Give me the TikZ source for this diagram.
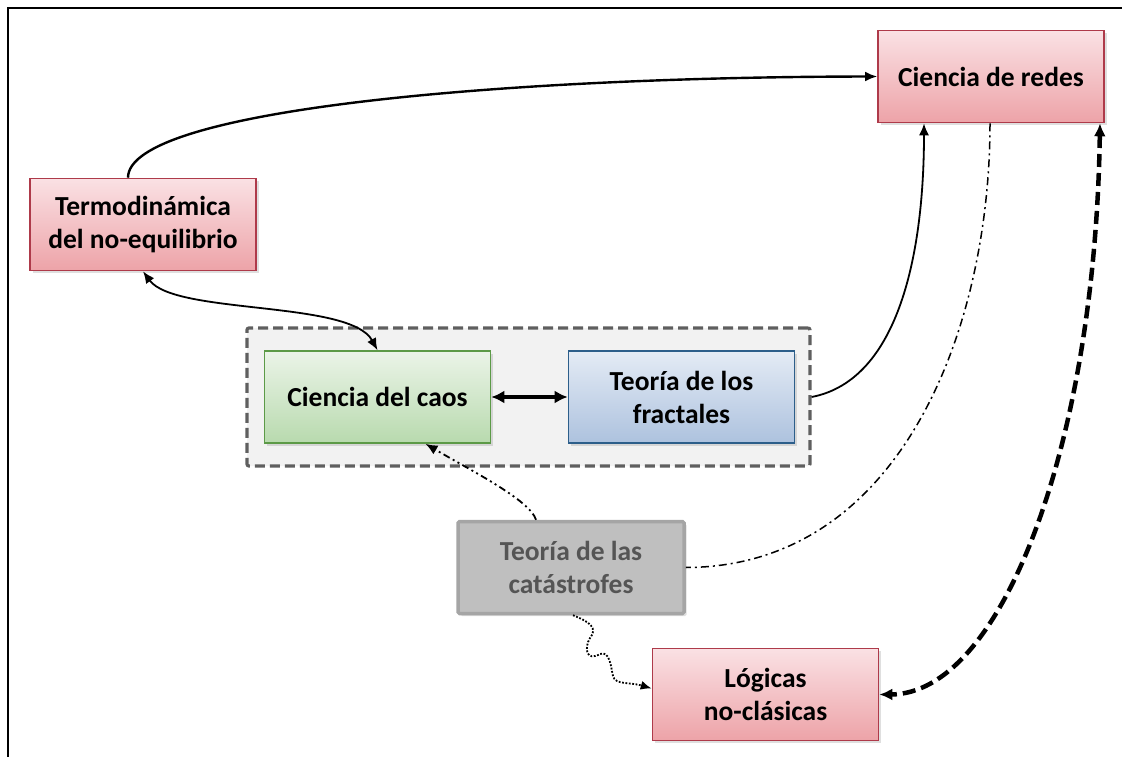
\documentclass[tikz,border=0pt]{standalone}
\usepackage{fontspec}
\setmainfont{Carlito}
\usetikzlibrary{arrows.meta,shadows}
\definecolor{redT}{HTML}{FAE1E4}
\definecolor{redBt}{HTML}{EDA3A8}
\definecolor{redB}{HTML}{AE3A4A}
\definecolor{grnT}{HTML}{EBF4E8}
\definecolor{grnBt}{HTML}{B8DAAE}
\definecolor{grnB}{HTML}{5C9A47}
\definecolor{bluT}{HTML}{E4EBF5}
\definecolor{bluBt}{HTML}{ADC2DE}
\definecolor{bluB}{HTML}{2C5E8A}
\definecolor{gryF}{HTML}{BFBFBF}
\definecolor{gryB}{HTML}{A5A5A5}
\definecolor{gryT}{HTML}{555555}
\definecolor{grpF}{HTML}{F2F2F2}
\definecolor{grpB}{HTML}{5F5F5F}
\tikzset{
  box/.style={minimum width=226pt, minimum height=92pt, inner sep=0pt, align=center,
    font=\bfseries\fontsize{27.5}{33}\selectfont, line width=1.6pt,
    drop shadow={shadow xshift=2.5pt, shadow yshift=-2.5pt, opacity=0.25}},
  redbox/.style={box, draw=redB, top color=redT, bottom color=redBt},
  grnbox/.style={box, draw=grnB, top color=grnT, bottom color=grnBt},
  blubox/.style={box, draw=bluB, top color=bluT, bottom color=bluBt},
  grybox/.style={box, draw=gryB, fill=gryF, line width=3.5pt, text=gryT, rounded corners=1.5pt},
  grpbox/.style={draw=grpB, fill=grpF, dash pattern=on 10pt off 5pt, line width=3.2pt,
    minimum width=563pt, minimum height=138pt, rounded corners=2pt},
  arrowA/.style={-{Latex[length=12pt,width=10pt]}},
  arrowAB/.style={{Latex[length=12pt,width=10pt]}-{Latex[length=12pt,width=10pt]}},
  dashdot/.style={dash pattern=on 8pt off 4pt on 2pt off 4pt, line width=1.5pt},
  dashdotdot/.style={dash pattern=on 7pt off 3.5pt on 2pt off 3.5pt on 2pt off 3.5pt, line width=1.8pt},
}
\begin{document}
\begin{tikzpicture}[x=1pt,y=-1pt]
\useasboundingbox (0,0) rectangle (1122,757);
\draw[line width=2.8pt] (8,757) -- (8,8) -- (1122,8);

\node[grpbox] (group) at (528.5,397) {};
\node[redbox] (redes) at (991,76.5) {Ciencia de redes};
\node[redbox] (termo) at (143,224.5) {Termodinámica\\del no-equilibrio};
\node[grnbox] (caos) at (377.5,397) {Ciencia del caos};
\node[blubox] (fract) at (681.5,397) {Teoría de los\\fractales};
\node[grybox] (cat) at (571,567.5) {Teoría de las\\catástrofes};
\node[redbox] (log) at (765.5,694.5) {Lógicas\\no-clásicas};

% termo -> redes
\draw[arrowA, line width=2.4pt] ([xshift=-15pt]termo.north) .. controls (128,110) and (500,77) .. (redes.west);
% termo <-> caos
\draw[arrowAB, line width=1.8pt] (termo.south) .. controls (175,315) and (350,300) .. (caos.north);
% caos <-> fractales
\draw[{Latex[length=13pt,width=13pt]}-{Latex[length=13pt,width=13pt]}, line width=3.6pt] (caos) -- (fract);
% fractales -> redes
\draw[arrowA, line width=1.8pt] (group.east) .. controls (900,380) and (924,250) .. ([xshift=-67pt]redes.south);
% redes -- catastrofes
\draw[dashdot] ([xshift=-1pt]redes.south) .. controls (990,330) and (900,567) .. (cat.east);
% redes <-> logicas
\draw[{Latex[length=13pt,width=12pt]}-{Latex[length=13pt,width=12pt]}, line width=4.5pt, dash pattern=on 13pt off 6pt]
  ([xshift=109pt]redes.south) .. controls (1095,450) and (1000,694) .. (log.east);
% catastrofes -> caos
\draw[arrowA, dashdotdot] ([xshift=-35pt]cat.north) .. controls (530,500) and (470,470) .. ([xshift=48pt]caos.south);
% catastrofes -> logicas (wavy dotted)
\draw[-{Latex[length=11pt,width=9pt]}, line width=1.8pt, dash pattern=on 1.8pt off 1.6pt]
  ([xshift=2pt]cat.south) .. controls (590,622) and (598,628) .. (590,638)
  .. controls (584,648) and (586,662) .. (600,654)
  .. controls (610,650) and (611,668) .. (613,676)
  .. controls (615,685) and (630,682) .. ([yshift=6pt]log.west);
\end{tikzpicture}
\end{document}
